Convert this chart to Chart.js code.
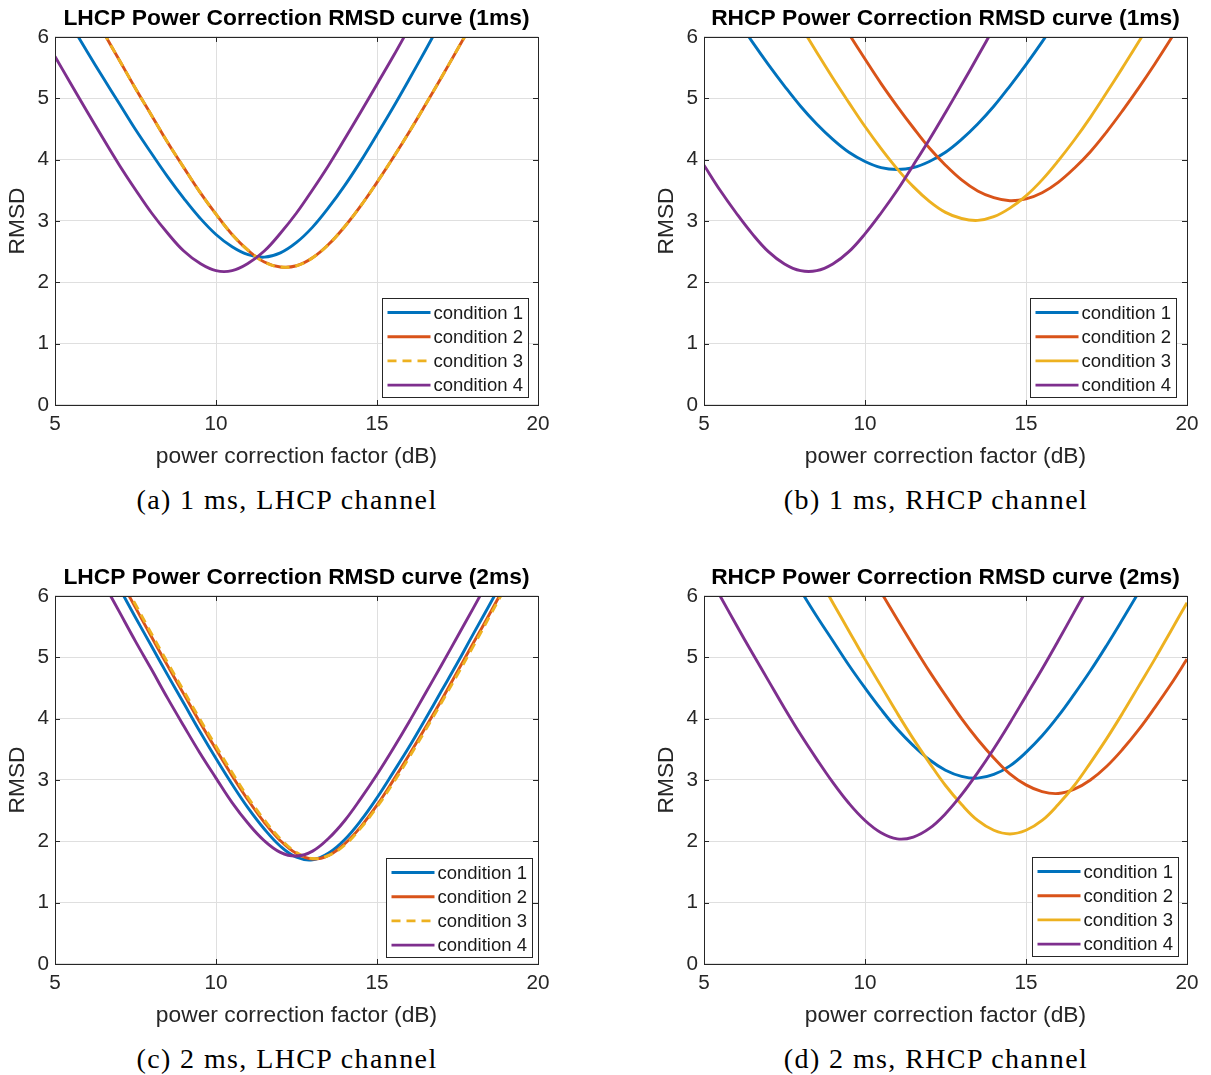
<!DOCTYPE html>
<html>
<head>
<meta charset="utf-8">
<title>Power Correction RMSD curves</title>
<script src="https://cdn.jsdelivr.net/npm/chart.js@4.4.1/dist/chart.umd.min.js"></script>
<style>
  body { margin: 0; background: #fff; }
  #page { position: relative; width: 1211px; height: 1075px; overflow: hidden; background: #fff; }
  .panel { position: absolute; }
  .caption {
    position: absolute; width: 574px; text-align: center;
    font-family: "Liberation Serif", "DejaVu Serif", serif;
    font-size: 28px; letter-spacing: 1.4px; line-height: 34px; color: #000;
  }
</style>
</head>
<body>
<div id="page"></div>
<script>
// ── Data ──
const xValues = [5, 5.5, 6, 6.5, 7, 7.5, 8, 8.5, 9, 9.5, 10, 10.5, 11, 11.5, 12, 12.5,
                 13, 13.5, 14, 14.5, 15, 15.5, 16, 16.5, 17, 17.5, 18, 18.5, 19, 19.5, 20];
const xTicks = [5, 10, 15, 20];
const yTicks = [0, 1, 2, 3, 4, 5, 6];
const conditionLabels = ["condition 1", "condition 2", "condition 3", "condition 4"];
const panelTitles = [
  "LHCP Power Correction RMSD curve (1ms)",
  "RHCP Power Correction RMSD curve (1ms)",
  "LHCP Power Correction RMSD curve (2ms)",
  "RHCP Power Correction RMSD curve (2ms)"
];
const panelCaptions = [
  "(a) 1 ms, LHCP channel",
  "(b) 1 ms, RHCP channel",
  "(c) 2 ms, LHCP channel",
  "(d) 2 ms, RHCP channel"
];
const xAxisLabel = "power correction factor (dB)";
const yAxisLabel = "RMSD";

// (a) 1 ms, LHCP
const lhcp1msCond1 = [null, 6.20, 5.76, 5.33, 4.91, 4.49, 4.10, 3.72, 3.37, 3.05, 2.78, 2.58, 2.45, 2.41, 2.48, 2.65,
                      2.90, 3.22, 3.58, 3.98, 4.41, 4.85, 5.31, 5.78, 6.26, null, null, null, null, null, null];
const lhcp1msCond2 = [null, null, null, 6.08, 5.62, 5.16, 4.72, 4.28, 3.87, 3.47, 3.11, 2.78, 2.52, 2.33, 2.25, 2.27,
                      2.40, 2.62, 2.91, 3.25, 3.63, 4.03, 4.45, 4.89, 5.34, 5.80, 6.26, null, null, null, null];
const lhcp1msCond3 = [null, null, null, 6.08, 5.62, 5.16, 4.72, 4.28, 3.87, 3.47, 3.11, 2.78, 2.52, 2.33, 2.25, 2.27,
                      2.40, 2.62, 2.91, 3.25, 3.63, 4.03, 4.45, 4.89, 5.34, 5.80, 6.26, null, null, null, null];
const lhcp1msCond4 = [5.68, 5.23, 4.78, 4.34, 3.91, 3.51, 3.13, 2.80, 2.51, 2.31, 2.19, 2.19, 2.31, 2.51, 2.80, 3.13,
                      3.51, 3.91, 4.34, 4.78, 5.23, 5.68, 6.15, null, null, null, null, null, null, null, null];

// (b) 1 ms, RHCP
const rhcp1msCond1 = [null, null, 6.31, 5.92, 5.55, 5.20, 4.87, 4.58, 4.33, 4.12, 3.97, 3.87, 3.84, 3.87, 3.97, 4.12,
                      4.33, 4.58, 4.87, 5.20, 5.55, 5.92, 6.31, null, null, null, null, null, null, null, null];
const rhcp1msCond2 = [null, null, null, null, null, null, null, null, null, 6.05, 5.64, 5.24, 4.87, 4.52, 4.19, 3.91,
                      3.67, 3.49, 3.38, 3.33, 3.36, 3.46, 3.63, 3.86, 4.13, 4.45, 4.80, 5.17, 5.56, 5.97, 6.39];
const rhcp1msCond3 = [null, null, null, null, null, null, 6.18, 5.75, 5.33, 4.93, 4.54, 4.18, 3.85, 3.56, 3.32, 3.14,
                      3.04, 3.01, 3.07, 3.21, 3.41, 3.67, 3.98, 4.32, 4.69, 5.09, 5.50, 5.92, 6.36, null, null];
const rhcp1msCond4 = [3.91, 3.50, 3.13, 2.79, 2.50, 2.30, 2.19, 2.19, 2.30, 2.50, 2.79, 3.13, 3.50, 3.91, 4.33, 4.77,
                      5.22, 5.68, 6.15, null, null, null, null, null, null, null, null, null, null, null, null];

// (c) 2 ms, LHCP
const lhcp2msCond1 = [null, null, null, null, 6.13, 5.65, 5.18, 4.71, 4.25, 3.79, 3.35, 2.93, 2.54, 2.20, 1.92, 1.74,
                      1.70, 1.81, 2.03, 2.34, 2.71, 3.12, 3.54, 3.99, 4.45, 4.91, 5.39, 5.86, 6.34, null, null];
const lhcp2msCond2 = [null, null, null, null, 6.29, 5.81, 5.33, 4.86, 4.40, 3.94, 3.50, 3.07, 2.67, 2.31, 2.01, 1.80,
                      1.71, 1.77, 1.96, 2.24, 2.59, 2.99, 3.41, 3.85, 4.30, 4.77, 5.24, 5.71, 6.19, null, null];
const lhcp2msCond3 = [null, null, null, null, 6.34, 5.86, 5.38, 4.91, 4.45, 3.99, 3.55, 3.12, 2.71, 2.35, 2.04, 1.82,
                      1.72, 1.77, 1.94, 2.22, 2.56, 2.95, 3.37, 3.81, 4.26, 4.72, 5.19, 5.67, 6.15, null, null];
const lhcp2msCond4 = [null, null, null, 6.22, 5.74, 5.26, 4.80, 4.33, 3.88, 3.44, 3.03, 2.63, 2.29, 2.01, 1.82, 1.76,
                      1.84, 2.05, 2.34, 2.70, 3.09, 3.51, 3.95, 4.41, 4.87, 5.34, 5.81, 6.29, null, null, null];

// (d) 2 ms, RHCP
const rhcp2msCond1 = [null, null, null, null, null, null, 6.09, 5.67, 5.27, 4.87, 4.50, 4.15, 3.83, 3.56, 3.33, 3.16,
                      3.06, 3.03, 3.09, 3.23, 3.45, 3.72, 4.04, 4.40, 4.78, 5.19, 5.62, 6.06, null, null, null];
const rhcp2msCond2 = [null, null, null, null, null, null, null, null, null, null, null, 6.06, 5.62, 5.19, 4.77, 4.38,
                      4.00, 3.66, 3.36, 3.10, 2.92, 2.81, 2.78, 2.85, 3.00, 3.22, 3.50, 3.82, 4.18, 4.56, 4.97];
const rhcp2msCond3 = [null, null, null, null, null, null, null, 6.36, 5.89, 5.43, 4.97, 4.53, 4.09, 3.67, 3.28, 2.91,
                      2.60, 2.34, 2.18, 2.12, 2.18, 2.34, 2.60, 2.91, 3.28, 3.67, 4.09, 4.53, 4.97, 5.43, 5.89];
const rhcp2msCond4 = [6.47, 6.00, 5.53, 5.07, 4.62, 4.17, 3.74, 3.34, 2.96, 2.62, 2.34, 2.14, 2.04, 2.07, 2.21, 2.45,
                      2.76, 3.12, 3.51, 3.93, 4.37, 4.81, 5.27, 5.74, 6.21, null, null, null, null, null, null];

// ── Styling ──
const FONT = "'Liberation Sans', Arial, Helvetica, sans-serif";
const AXIS_COLOR = "#262626";
const GRID_COLOR = "#dfdfdf";
const TICK_LEN = 5;
const LINE_W = 2.9;
const seriesColors = ["#0072BD", "#D95319", "#EDB120", "#7E2F8E"];

const panels = [
  { left: 0,   top: 0,   series: [lhcp1msCond1, lhcp1msCond2, lhcp1msCond3, lhcp1msCond4], dashed: 2,  legendRight: 10, legendBottom: 8 },
  { left: 649, top: 0,   series: [rhcp1msCond1, rhcp1msCond2, rhcp1msCond3, rhcp1msCond4], dashed: -1, legendRight: 11, legendBottom: 8 },
  { left: 0,   top: 559, series: [lhcp2msCond1, lhcp2msCond2, lhcp2msCond3, lhcp2msCond4], dashed: 2,  legendRight: 6,  legendBottom: 7 },
  { left: 649, top: 559, series: [rhcp2msCond1, rhcp2msCond2, rhcp2msCond3, rhcp2msCond4], dashed: -1, legendRight: 9,  legendBottom: 8 }
];

// MATLAB-like box, inward ticks and legend inside the axes
const matlabAxes = {
  id: "matlabAxes",
  afterDatasetsDraw: function (chart, args, opts) {
    const ctx = chart.ctx;
    const a = chart.chartArea;
    const xs = chart.scales.x, ys = chart.scales.y;
    ctx.save();
    ctx.strokeStyle = AXIS_COLOR;
    ctx.lineWidth = 1;
    ctx.setLineDash([]);
    ctx.beginPath();
    xTicks.forEach(function (v) {
      const px = Math.round(xs.getPixelForValue(v)) + 0.5;
      ctx.moveTo(px, a.bottom); ctx.lineTo(px, a.bottom - TICK_LEN);
      ctx.moveTo(px, a.top);    ctx.lineTo(px, a.top + TICK_LEN);
    });
    yTicks.forEach(function (v) {
      const py = Math.round(ys.getPixelForValue(v)) + 0.5;
      ctx.moveTo(a.left, py);  ctx.lineTo(a.left + TICK_LEN, py);
      ctx.moveTo(a.right, py); ctx.lineTo(a.right - TICK_LEN, py);
    });
    ctx.stroke();
    ctx.strokeRect(Math.round(a.left) + 0.5, Math.round(a.top) + 0.5,
                   Math.round(a.right - a.left), Math.round(a.bottom - a.top));

    // legend
    const w = 146, h = 99;
    const bx = Math.round(a.right - opts.right - w) + 0.5;
    const by = Math.round(a.bottom - opts.bottom - h) + 0.5;
    ctx.fillStyle = "#fff";
    ctx.fillRect(bx, by, w, h);
    ctx.strokeStyle = AXIS_COLOR;
    ctx.strokeRect(bx, by, w, h);
    ctx.font = "18.5px " + FONT;
    ctx.textBaseline = "middle";
    ctx.textAlign = "left";
    chart.data.datasets.forEach(function (ds, i) {
      const cy = by + 14 + i * 24.2;
      ctx.strokeStyle = ds.borderColor;
      ctx.lineWidth = LINE_W;
      ctx.setLineDash(ds.borderDash || []);
      ctx.beginPath();
      ctx.moveTo(bx + 5, cy);
      ctx.lineTo(bx + 48, cy);
      ctx.stroke();
      ctx.setLineDash([]);
      ctx.fillStyle = "#1a1a1a";
      ctx.fillText(ds.label, bx + 51, cy + 1);
    });
    ctx.restore();
  }
};

function toPoints(ys) {
  return xValues.map(function (x, i) { return { x: x, y: ys[i] }; })
                .filter(function (p) { return p.y !== null; });
}

const page = document.getElementById("page");

panels.forEach(function (p, idx) {
  const canvas = document.createElement("canvas");
  canvas.className = "panel";
  canvas.width = 560;
  canvas.height = 470;
  canvas.style.left = p.left + "px";
  canvas.style.top = p.top + "px";
  page.appendChild(canvas);

  const cap = document.createElement("div");
  cap.className = "caption";
  cap.textContent = panelCaptions[idx];
  cap.style.left = p.left + "px";
  cap.style.top = (p.top + 483) + "px";
  page.appendChild(cap);

  const datasets = p.series.map(function (ys, i) {
    return {
      label: conditionLabels[i],
      data: toPoints(ys),
      borderColor: seriesColors[i],
      backgroundColor: seriesColors[i],
      borderWidth: LINE_W,
      borderDash: i === p.dashed ? [9, 6] : [],
      pointRadius: 0,
      fill: false,
      tension: 0.4,
      clip: 0,
      order: -i
    };
  });

  new Chart(canvas, {
    type: "line",
    data: { datasets: datasets },
    plugins: [matlabAxes],
    options: {
      responsive: false,
      animation: false,
      events: [],
      layout: { padding: { left: 0, right: 22, top: 0, bottom: 0 } },
      plugins: {
        legend: { display: false },
        tooltip: { enabled: false },
        title: {
          display: true,
          text: panelTitles[idx],
          fullSize: false,
          color: "#000",
          font: { family: FONT, size: 22.8, weight: "bold" },
          padding: { top: 5, bottom: 4.6 }
        },
        matlabAxes: { right: p.legendRight, bottom: p.legendBottom }
      },
      scales: {
        x: {
          type: "linear",
          min: 5, max: 20,
          afterFit: function (s) { s.height = 65; },
          afterBuildTicks: function (s) { s.ticks = xTicks.map(function (v) { return { value: v }; }); },
          grid: { color: GRID_COLOR, drawTicks: false },
          border: { display: false },
          ticks: { color: AXIS_COLOR, padding: 7, font: { family: FONT, size: 20.7 } },
          title: { display: true, text: xAxisLabel, color: AXIS_COLOR,
                   font: { family: FONT, size: 22.8 }, padding: { top: 0, bottom: 0 } }
        },
        y: {
          type: "linear",
          min: 0, max: 6,
          afterFit: function (s) { s.width = 55; },
          afterBuildTicks: function (s) { s.ticks = yTicks.map(function (v) { return { value: v }; }); },
          grid: { color: GRID_COLOR, drawTicks: false },
          border: { display: false },
          ticks: { color: AXIS_COLOR, padding: 6, font: { family: FONT, size: 20.7 } },
          title: { display: true, text: yAxisLabel, color: AXIS_COLOR,
                   font: { family: FONT, size: 22.8 }, padding: { top: 4, bottom: 0 } }
        }
      }
    }
  });
});
</script>
</body>
</html>
